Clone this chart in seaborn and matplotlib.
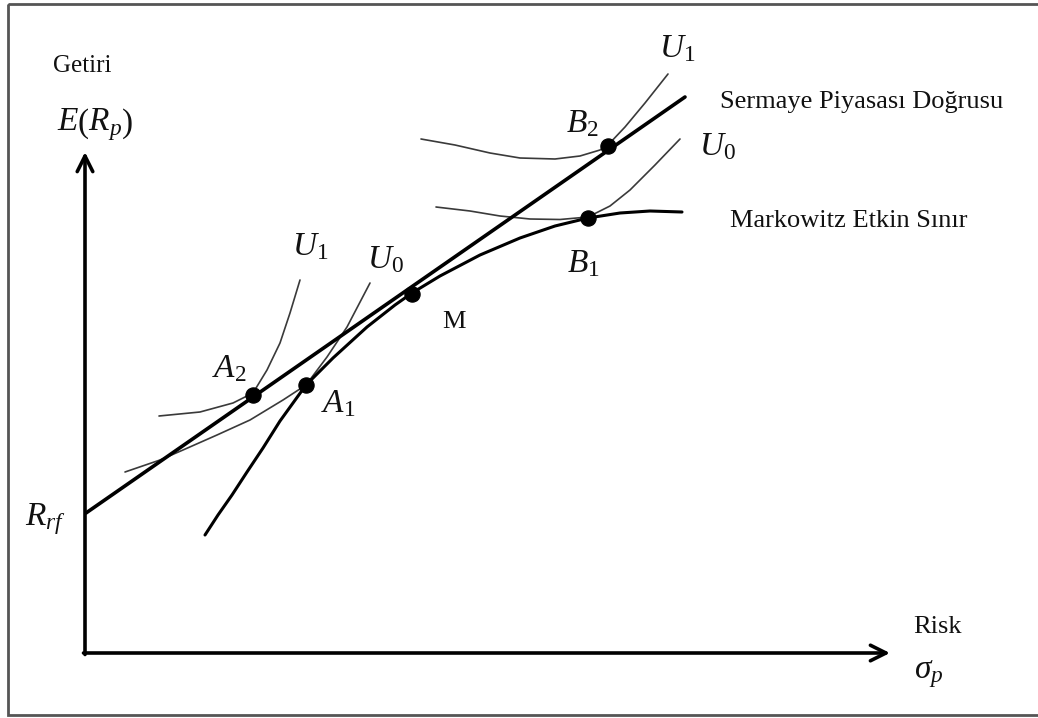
import matplotlib
matplotlib.use("Agg")
import matplotlib.pyplot as plt
import matplotlib.patches as patches
import seaborn as sns

# diagram coordinates (y grows downward)
origin = (85, 653)
y_tip = (85, 152)
x_tip = (890, 653)

# capital market line (Sermaye Piyasasi Dogrusu)
cml_x = [86, 685]
cml_y = [513, 97]

# Markowitz efficient frontier
front_x = [205, 218, 232, 247, 263, 280, 306, 333, 367, 395, 412, 440, 480, 520, 555, 588, 620, 650, 682]
front_y = [535, 515, 495, 472, 448, 421, 385, 358, 327, 305, 293, 276, 255, 238, 226, 218, 213, 211, 212]

# indifference curves
u1_up_x = [421, 455, 490, 520, 555, 580, 600, 608, 625, 645, 668]
u1_up_y = [139, 145, 153, 158, 159, 156, 150, 145, 127, 103, 74]
u0_up_x = [436, 470, 500, 530, 560, 588, 610, 630, 655, 680]
u0_up_y = [207, 211, 216, 219, 219.5, 217, 206, 190, 165, 139]
u1_lo_x = [159, 200, 233, 253, 267, 280, 290, 300]
u1_lo_y = [416, 412, 403, 393, 370, 343, 313, 280]
u0_lo_x = [125, 160, 183, 217, 250, 283, 306, 327, 347, 370]
u0_lo_y = [472, 460, 450, 435, 420, 400, 385, 357, 327, 283]

# tangency points
dot_x = [253, 306, 412, 588, 608]
dot_y = [395, 385, 294, 218, 146]

sns.set_style("white")
plt.rcParams['font.family'] = ['Liberation Serif', 'DejaVu Serif']
plt.rcParams['mathtext.fontset'] = 'custom'
plt.rcParams['mathtext.rm'] = 'Liberation Serif'
plt.rcParams['mathtext.it'] = 'Liberation Serif:italic'
plt.rcParams['lines.solid_joinstyle'] = 'round'
plt.rcParams['lines.solid_capstyle'] = 'round'

fig = plt.figure(figsize=(10.38, 7.18), dpi=100)
ax = fig.add_axes([0, 0, 1, 1])
ax.set_xlim(0, 1038)
ax.set_ylim(718, 0)
ax.axis('off')

# frame
ax.add_patch(patches.Rectangle((8, 4), 1060, 711, fill=False, edgecolor='#555555', lw=2))

# axes arrows
ax.annotate('', xy=y_tip, xytext=(origin[0], origin[1] + 1.5),
            arrowprops=dict(arrowstyle='->', lw=2.6, color='black', mutation_scale=28,
                            shrinkA=0, shrinkB=0))
ax.annotate('', xy=x_tip, xytext=(origin[0] - 1.5, origin[1]),
            arrowprops=dict(arrowstyle='->', lw=2.6, color='black', mutation_scale=28,
                            shrinkA=0, shrinkB=0))

thin = dict(color='#3a3a3a', lw=1.2, sort=False, ax=ax)
sns.lineplot(x=u1_up_x, y=u1_up_y, **thin)
sns.lineplot(x=u0_up_x, y=u0_up_y, **thin)
sns.lineplot(x=u1_lo_x, y=u1_lo_y, **thin)
sns.lineplot(x=u0_lo_x, y=u0_lo_y, **thin)

sns.lineplot(x=cml_x, y=cml_y, color='black', lw=2.6, sort=False, ax=ax)
sns.lineplot(x=front_x, y=front_y, color='black', lw=2.2, sort=False, ax=ax)

sns.scatterplot(x=dot_x, y=dot_y, s=120, color='black', edgecolor='black', zorder=5, ax=ax)

txt = dict(color='#111111', va='baseline', ha='left')
ax.text(53, 72, 'Getiri', fontsize=18, **txt)
ax.text(57, 131, r'$E\left(R_p\right)$', fontsize=24, **txt)
ax.text(25, 525, r'$R_{rf}$', fontsize=24, **txt)
ax.text(913, 633, 'Risk', fontsize=19, **txt)
ax.text(914, 678, r'$\sigma_p$', fontsize=24, **txt)
ax.text(720, 108, 'Sermaye Piyasası Doğrusu', fontsize=19, **txt)
ax.text(730, 227, 'Markowitz Etkin Sınır', fontsize=19, **txt)
ax.text(659, 57, r'$U_1$', fontsize=24, **txt)
ax.text(699, 155, r'$U_0$', fontsize=24, **txt)
ax.text(566, 132, r'$B_2$', fontsize=24, **txt)
ax.text(567, 272, r'$B_1$', fontsize=24, **txt)
ax.text(292, 255, r'$U_1$', fontsize=24, **txt)
ax.text(367, 268, r'$U_0$', fontsize=24, **txt)
ax.text(212, 377, r'$A_2$', fontsize=24, **txt)
ax.text(321, 412, r'$A_1$', fontsize=24, **txt)
ax.text(442, 328, 'M', fontsize=19, **txt)

fig.savefig('out.png', dpi=100)
